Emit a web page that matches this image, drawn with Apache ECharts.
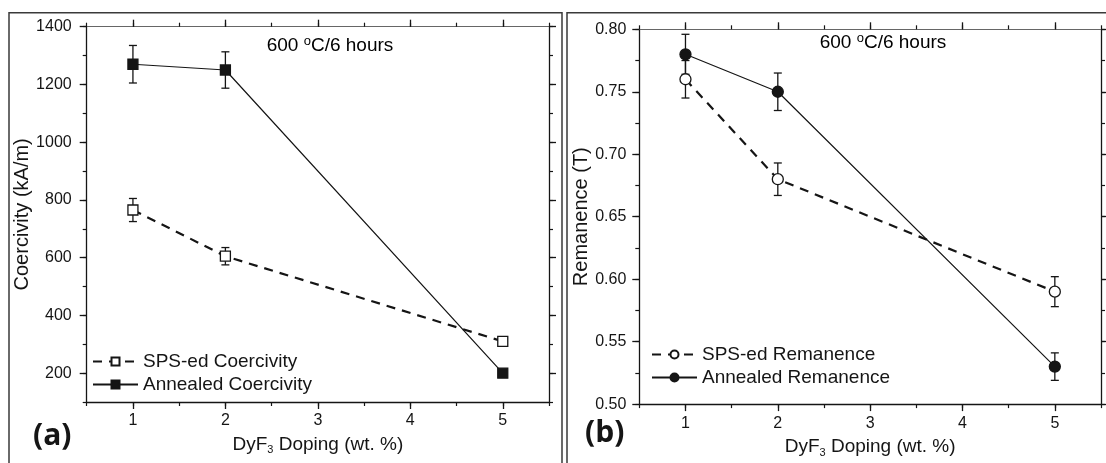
<!DOCTYPE html>
<html>
<head>
<meta charset="utf-8">
<script src="https://cdn.jsdelivr.net/npm/echarts@6/dist/echarts.min.js"></script>
<style>
  html, body { margin: 0; padding: 0; background: #fff; }
  #chart { width: 1106px; height: 463px; }
</style>
</head>
<body>
<div id="chart"></div>
<script>
  // data
  const dopingX = [1, 2, 5]
  const xTicks = [1, 2, 3, 4, 5]

  const spsCoercivity = [765, 605, 310]
  const spsCoercivityErr = [40, 30, 0]
  const annCoercivity = [1270, 1250, 200]
  const annCoercivityErr = [65, 63, 0]
  const coercivityTicks = [200, 400, 600, 800, 1000, 1200, 1400]

  const spsRemanence = [0.76, 0.68, 0.59]
  const spsRemanenceErr = [0.015, 0.013, 0.012]
  const annRemanence = [0.78, 0.75, 0.53]
  const annRemanenceErr = [0.016, 0.015, 0.011]
  const remanenceTicks = [0.50, 0.55, 0.60, 0.65, 0.70, 0.75, 0.80]

  const FONT = "'Liberation Sans', Arial, sans-serif"
  const INK = '#151515'

  const chart = echarts.init(document.getElementById('chart'))

  // 4 axes per side of a grid: major + minor ticks, bottom/top (or left/right)
  function makeAxes(grid, pos, range, majors, minorStep, extra) {
    const axisLine = { show: true, lineStyle: { color: INK, width: 1.3 } }
    const base = { type: 'value', gridIndex: grid, min: range[0], max: range[1], splitLine: { show: false } }
    const mirror = pos === 'bottom' ? 'top' : 'right'
    return [
      Object.assign({}, base, {
        position: pos,
        axisLine: axisLine,
        axisTick: { show: true, customValues: majors, length: 7, lineStyle: { color: INK, width: 1.3 } },
        axisLabel: Object.assign({ customValues: majors, fontFamily: FONT, fontSize: 16, color: INK }, extra.label)
      }, extra.axis),
      Object.assign({}, base, {
        position: pos, interval: minorStep,
        axisLine: { show: false },
        axisTick: { show: true, length: 4, lineStyle: { color: INK, width: 1.2 } },
        axisLabel: { show: false }
      }),
      Object.assign({}, base, {
        position: mirror,
        axisLine: { show: true, lineStyle: { color: pos === 'bottom' ? '#666' : INK, width: pos === 'bottom' ? 1 : 1.3 } },
        axisTick: { show: true, customValues: majors, length: 7, lineStyle: { color: INK, width: 1.3 } },
        axisLabel: { show: false }
      }),
      Object.assign({}, base, {
        position: mirror, interval: minorStep,
        axisLine: { show: false },
        axisTick: { show: true, length: 4, lineStyle: { color: INK, width: 1.2 } },
        axisLabel: { show: false }
      })
    ]
  }

  const xName = {
    name: 'DyF{sub|3} Doping (wt. %)',
    nameLocation: 'middle',
    nameGap: 26,
    nameTextStyle: {
      fontFamily: FONT, fontSize: 19, color: INK, lineHeight: 22,
      rich: { sub: { fontFamily: FONT, fontSize: 11, color: INK, lineHeight: 12, verticalAlign: 'bottom' } }
    }
  }

  const xAxes = [].concat(
    makeAxes(0, 'bottom', [0.5, 5.5], xTicks, 0.5, { label: { margin: 11 }, axis: xName }),
    makeAxes(1, 'bottom', [0.5, 5.5], xTicks, 0.5, { label: { margin: 11 }, axis: xName })
  )

  const yAxes = [].concat(
    makeAxes(0, 'left', [100, 1400], coercivityTicks, 100, {
      label: { margin: 15, formatter: v => String(v) },
      axis: { name: 'Coercivity (kA/m)', nameLocation: 'middle', nameRotate: 90, nameGap: 50,
        nameTextStyle: { fontFamily: FONT, fontSize: 20, color: INK } }
    }),
    makeAxes(1, 'left', [0.5, 0.8], remanenceTicks, 0.025, {
      label: { margin: 13, formatter: v => v.toFixed(2) },
      axis: { name: 'Remanence (T)', nameLocation: 'middle', nameRotate: 90, nameGap: 48,
        nameTextStyle: { fontFamily: FONT, fontSize: 20, color: INK } }
    })
  )

  function lineSeries(name, axis, ys, symbol, hollow) {
    return {
      name: name,
      type: 'line',
      xAxisIndex: axis, yAxisIndex: axis,
      data: dopingX.map((x, i) => [x, ys[i]]),
      symbol: symbol,
      symbolSize: symbol === 'circle' ? 11 : 10,
      showAllSymbol: true,
      z: 3,
      itemStyle: { color: hollow ? '#fff' : INK, borderColor: INK, borderWidth: 1.3 },
      lineStyle: hollow ? { color: INK, width: 2.2, type: [9, 7] } : { color: INK, width: 1.2 },
      emphasis: { disabled: true }
    }
  }

  function errorBars(axis, ys, errs) {
    return {
      type: 'custom',
      xAxisIndex: axis, yAxisIndex: axis,
      z: 1, silent: true,
      data: dopingX.map((x, i) => [x, ys[i], errs[i]]),
      encode: { x: 0, y: 1 },
      renderItem(params, api) {
        const x = api.value(0), y = api.value(1), e = api.value(2)
        if (!e) return { type: 'group', children: [] }
        const top = api.coord([x, y + e])
        const bot = api.coord([x, y - e])
        const st = { stroke: INK, lineWidth: 1.3 }
        return {
          type: 'group',
          children: [
            { type: 'line', shape: { x1: top[0], y1: top[1], x2: bot[0], y2: bot[1] }, style: st },
            { type: 'line', shape: { x1: top[0] - 4, y1: top[1], x2: top[0] + 4, y2: top[1] }, style: st },
            { type: 'line', shape: { x1: bot[0] - 4, y1: bot[1], x2: bot[0] + 4, y2: bot[1] }, style: st }
          ]
        }
      }
    }
  }

  const legendBase = {
    orient: 'vertical',
    padding: 0,
    itemWidth: 45, itemHeight: 10, itemGap: 4,
    textStyle: { fontFamily: FONT, fontSize: 19, color: INK },
    selectedMode: false
  }

  const titleRich = {
    n: { fontFamily: FONT, fontSize: 19, color: INK, lineHeight: 22 },
    sup: { fontFamily: FONT, fontSize: 13, color: INK, lineHeight: 13, verticalAlign: 'top' }
  }

  chart.setOption({
    animation: false,
    backgroundColor: '#fff',
    grid: [
      { left: 86.7, top: 26.7, width: 462.3, height: 375.3 },
      { left: 639.3, top: 29.3, width: 461.7, height: 375 }
    ],
    xAxis: xAxes,
    yAxis: yAxes,
    legend: [
      Object.assign({}, legendBase, { left: 92, top: 352, data: ['SPS-ed Coercivity', 'Annealed Coercivity'] }),
      Object.assign({}, legendBase, { left: 651, top: 345, data: ['SPS-ed Remanence', 'Annealed Remanence'] })
    ],
    graphic: [
      { type: 'rect', shape: { x: 9, y: 12.7, width: 553, height: 480 }, style: { fill: 'none', stroke: '#3a3a3a', lineWidth: 1.5 }, silent: true },
      { type: 'rect', shape: { x: 567, y: 12.7, width: 560, height: 480 }, style: { fill: 'none', stroke: '#3a3a3a', lineWidth: 1.5 }, silent: true },
      { type: 'text', x: 330, y: 46, style: { text: '{n|600 }{sup|o}{n|C/6 hours}', align: 'center', verticalAlign: 'middle', rich: titleRich } },
      { type: 'text', x: 883, y: 43, style: { text: '{n|600 }{sup|o}{n|C/6 hours}', align: 'center', verticalAlign: 'middle', rich: titleRich } },
      { type: 'text', x: 33, y: 436, style: { text: '(a)', font: "bold 30px 'Open Sans', sans-serif", fill: INK, verticalAlign: 'middle' } },
      { type: 'text', x: 585, y: 433, style: { text: '(b)', font: "bold 30px 'Open Sans', sans-serif", fill: INK, verticalAlign: 'middle' } }
    ],
    series: [
      errorBars(0, spsCoercivity, spsCoercivityErr),
      errorBars(0, annCoercivity, annCoercivityErr),
      lineSeries('SPS-ed Coercivity', 0, spsCoercivity, 'rect', true),
      lineSeries('Annealed Coercivity', 0, annCoercivity, 'rect', false),
      errorBars(4, spsRemanence, spsRemanenceErr),
      errorBars(4, annRemanence, annRemanenceErr),
      lineSeries('SPS-ed Remanence', 4, spsRemanence, 'circle', true),
      lineSeries('Annealed Remanence', 4, annRemanence, 'circle', false)
    ]
  })
</script>
</body>
</html>
